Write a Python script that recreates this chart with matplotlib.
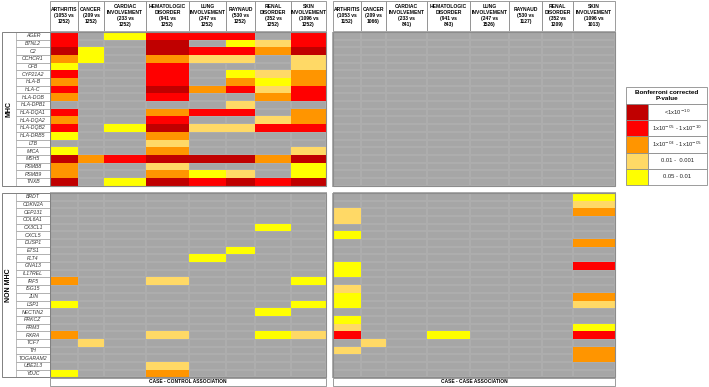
import numpy as np
import matplotlib
matplotlib.use('Agg')
import matplotlib.pyplot as plt
from matplotlib.colors import ListedColormap, BoundaryNorm
from matplotlib.patches import Rectangle

plt.rcParams['font.family'] = ['Liberation Sans', 'DejaVu Sans']

# column headers
cc_headers = ['ARTHRITIS\n(1053 vs\n1252)', 'CANCER\n(209 vs\n1252)', 'CARDIAC\nINVOLVEMENT\n(233 vs\n1252)',
              'HEMATOLOGIC\nDISORDER\n(941 vs\n1252)', 'LUNG\nINVOLVEMENT\n(247 vs\n1252)', 'RAYNAUD\n(530 vs\n1252)',
              'RENAL\nDISORDER\n(352 vs\n1252)', 'SKIN\nINVOLVEMENT\n(1096 vs\n1252)']
cs_headers = ['ARTHRITIS\n(1053 vs\n1152)', 'CANCER\n(209 vs\n1066)', 'CARDIAC\nINVOLVEMENT\n(233 vs\n841)',
              'HEMATOLOGIC\nDISORDER\n(941 vs\n843)', 'LUNG\nINVOLVEMENT\n(247 vs\n1526)', 'RAYNAUD\n(530 vs\n1127)',
              'RENAL\nDISORDER\n(352 vs\n1209)', 'SKIN\nINVOLVEMENT\n(1096 vs\n1013)']

mhc_genes = ['AGER', 'BTNL2', 'C2', 'CCHCR1', 'CFB', 'CYP21A2', 'HLA-B', 'HLA-C', 'HLA-DOB', 'HLA-DPB1',
             'HLA-DQA1', 'HLA-DQA2', 'HLA-DQB2', 'HLA-DRB5', 'LTB', 'MICA', 'MSH5', 'PSMB8', 'PSMB9', 'TNXB']
non_mhc_genes = ['BRDT', 'CDKN2A', 'CEP131', 'COL6A1', 'CX3CL1', 'CXCL5', 'DUSP1', 'ETS1', 'FLT4', 'GNA13',
                 'IL17REL', 'IRF5', 'ISG15', 'JUN', 'LSP1', 'NECTIN2', 'PRKCZ', 'PRM3', 'RXRA', 'TCF7', 'TH',
                 'TOGARAM2', 'UBE2L3', 'YDJC']

# significance class: 0 n.s., 1 0.05-0.01, 2 0.01-0.001, 3 1e-3..1e-5, 4 1e-5..1e-10, 5 <1e-10
cc_mhc = [
    [4, 0, 1, 4, 4, 4, 0, 4],
    [4, 0, 0, 5, 0, 1, 2, 4],
    [5, 1, 0, 5, 4, 4, 3, 5],
    [3, 1, 0, 3, 2, 2, 0, 2],
    [1, 0, 0, 4, 0, 0, 0, 2],
    [4, 0, 0, 4, 0, 1, 2, 3],
    [3, 0, 0, 4, 0, 3, 1, 3],
    [4, 0, 0, 5, 3, 4, 2, 4],
    [3, 0, 0, 4, 0, 0, 3, 4],
    [0, 0, 0, 0, 0, 2, 0, 0],
    [4, 0, 0, 3, 4, 4, 0, 3],
    [3, 0, 0, 4, 0, 0, 2, 3],
    [4, 0, 1, 5, 2, 2, 4, 4],
    [1, 0, 0, 3, 0, 0, 0, 0],
    [0, 0, 0, 2, 0, 0, 0, 0],
    [1, 0, 0, 3, 0, 0, 0, 2],
    [5, 3, 4, 5, 5, 5, 3, 5],
    [3, 0, 0, 2, 0, 0, 0, 1],
    [3, 0, 0, 3, 1, 2, 0, 1],
    [5, 0, 1, 5, 4, 5, 4, 5],
]
cc_non_mhc = [
    [0, 0, 0, 0, 0, 0, 0, 0],
    [0, 0, 0, 0, 0, 0, 0, 0],
    [0, 0, 0, 0, 0, 0, 0, 0],
    [0, 0, 0, 0, 0, 0, 0, 0],
    [0, 0, 0, 0, 0, 0, 1, 0],
    [0, 0, 0, 0, 0, 0, 0, 0],
    [0, 0, 0, 0, 0, 0, 0, 0],
    [0, 0, 0, 0, 0, 1, 0, 0],
    [0, 0, 0, 0, 1, 0, 0, 0],
    [0, 0, 0, 0, 0, 0, 0, 0],
    [0, 0, 0, 0, 0, 0, 0, 0],
    [3, 0, 0, 2, 0, 0, 0, 1],
    [0, 0, 0, 0, 0, 0, 0, 0],
    [0, 0, 0, 0, 0, 0, 0, 0],
    [1, 0, 0, 0, 0, 0, 0, 1],
    [0, 0, 0, 0, 0, 0, 1, 0],
    [0, 0, 0, 0, 0, 0, 0, 0],
    [0, 0, 0, 0, 0, 0, 0, 0],
    [3, 0, 0, 2, 0, 0, 1, 2],
    [0, 2, 0, 0, 0, 0, 0, 0],
    [0, 0, 0, 0, 0, 0, 0, 0],
    [0, 0, 0, 0, 0, 0, 0, 0],
    [0, 0, 0, 2, 0, 0, 0, 0],
    [1, 0, 0, 3, 0, 0, 0, 0],
]
cs_mhc = [[0, 0, 0, 0, 0, 0, 0, 0] for g in mhc_genes]  # nothing significant
cs_non_mhc = [
    [0, 0, 0, 0, 0, 0, 0, 1],
    [0, 0, 0, 0, 0, 0, 0, 2],
    [2, 0, 0, 0, 0, 0, 0, 3],
    [2, 0, 0, 0, 0, 0, 0, 0],
    [0, 0, 0, 0, 0, 0, 0, 0],
    [1, 0, 0, 0, 0, 0, 0, 0],
    [0, 0, 0, 0, 0, 0, 0, 3],
    [0, 0, 0, 0, 0, 0, 0, 0],
    [0, 0, 0, 0, 0, 0, 0, 0],
    [1, 0, 0, 0, 0, 0, 0, 4],
    [1, 0, 0, 0, 0, 0, 0, 0],
    [0, 0, 0, 0, 0, 0, 0, 0],
    [2, 0, 0, 0, 0, 0, 0, 0],
    [1, 0, 0, 0, 0, 0, 0, 3],
    [1, 0, 0, 0, 0, 0, 0, 2],
    [0, 0, 0, 0, 0, 0, 0, 0],
    [1, 0, 0, 0, 0, 0, 0, 0],
    [2, 0, 0, 0, 0, 0, 0, 1],
    [4, 0, 0, 1, 0, 0, 0, 4],
    [0, 2, 0, 0, 0, 0, 0, 0],
    [2, 0, 0, 0, 0, 0, 0, 3],
    [0, 0, 0, 0, 0, 0, 0, 3],
    [0, 0, 0, 0, 0, 0, 0, 0],
    [0, 0, 0, 0, 0, 0, 0, 0],
]

legend_labels = ['<1x10$^{-10}$', '1x10$^{-05}$ - 1x10$^{-10}$', '1x10$^{-03}$ - 1x10$^{-05}$',
                 '0.01 -  0.001', '0.05 - 0.01']

# ---- layout (pixel coordinates) ----
colors = ['#a6a6a6', '#ffff00', '#ffd966', '#ff9500', '#ff0000', '#c00000']
cmap = ListedColormap(colors)
norm = BoundaryNorm(np.arange(-0.5, 6.5), cmap.N)

left_w = [28, 26, 42, 43, 37, 29, 36, 35]
right_w = [28, 25, 41, 43, 39, 33, 31, 42]
left_x0, right_x0 = 50, 333
row_h = 7.68
mhc_y0, non_y0 = 32, 193
head_y0 = 1
border = '#8c8c8c'

fig = plt.figure(figsize=(7.09, 3.87), dpi=100)
ax = fig.add_axes([0, 0, 1, 1])
ax.set_xlim(0, 709)
ax.set_ylim(387, 0)
ax.axis('off')


def draw_panel(x0, widths, headers, blocks, footer):
    xe = x0 + np.concatenate([[0], np.cumsum(widths)])
    # header cells
    for i, h in enumerate(headers):
        ax.add_patch(Rectangle((xe[i], head_y0), xe[i + 1] - xe[i], mhc_y0 - head_y0,
                               facecolor='white', edgecolor=border, lw=0.6))
        ax.text((xe[i] + xe[i + 1]) / 2, 15.5, h, ha='center', va='center',
                fontsize=3.6, fontweight='bold', linespacing=1.2)
    for y0, data in blocks:
        data = np.array(data)
        ye = y0 + row_h * np.arange(data.shape[0] + 1)
        # gray background with faint cell grid, significant cells on top
        ax.pcolormesh(xe, ye, np.zeros_like(data), cmap=cmap, norm=norm,
                      edgecolors='#adadad', linewidth=0.3)
        ax.pcolormesh(xe, ye, np.ma.masked_equal(data, 0), cmap=cmap, norm=norm,
                      edgecolors='none', linewidth=0)
        ax.add_patch(Rectangle((xe[0], ye[0]), xe[-1] - xe[0], ye[-1] - ye[0],
                               facecolor='none', edgecolor=border, lw=0.8))
    # footer
    ax.add_patch(Rectangle((xe[0], 377.5), xe[-1] - xe[0], 8.5, facecolor='white',
                           edgecolor=border, lw=0.6))
    ax.text((xe[0] + xe[-1]) / 2, 381.9, footer, ha='center', va='center',
            fontsize=3.5, fontweight='bold')


draw_panel(left_x0, left_w, cc_headers, [(mhc_y0, cc_mhc), (non_y0, cc_non_mhc)],
           'CASE - CONTROL ASSOCIATION')
draw_panel(right_x0, right_w, cs_headers, [(mhc_y0, cs_mhc), (non_y0, cs_non_mhc)],
           'CASE - CASE ASSOCIATION')

# gene labels and group labels
for y0, genes, group in [(mhc_y0, mhc_genes, 'MHC'), (non_y0, non_mhc_genes, 'NON MHC')]:
    for i, g in enumerate(genes):
        ax.add_patch(Rectangle((16, y0 + i * row_h), left_x0 - 16, row_h,
                               facecolor='white', edgecolor='#a0a0a0', lw=0.5))
        ax.text(33, y0 + (i + 0.5) * row_h, g, ha='center', va='center',
                fontsize=3.7, style='italic', color='#333333')
    h = row_h * len(genes)
    ax.add_patch(Rectangle((2, y0), left_x0 - 2, h, facecolor='none', edgecolor='#808080', lw=0.7))
    ax.text(9, y0 + h / 2, group, rotation=90, ha='center', va='center',
            fontsize=5, fontweight='bold')

# legend
lx0, lx1, ly0 = 626, 707, 87
sw = 22
title_h = 17
item_h = 16.2
ax.add_patch(Rectangle((lx0, ly0), lx1 - lx0, title_h, facecolor='white', edgecolor=border, lw=0.6))
ax.text((lx0 + lx1) / 2, ly0 + title_h / 2, 'Bonferroni corrected\nP-value', ha='center',
        va='center', fontsize=4.6, fontweight='bold', linespacing=1.1)
for k, lab in enumerate(legend_labels):
    y = ly0 + title_h + k * item_h
    ax.add_patch(Rectangle((lx0, y), sw, item_h, facecolor=colors[5 - k], edgecolor=border, lw=0.6))
    ax.add_patch(Rectangle((lx0 + sw, y), lx1 - lx0 - sw, item_h, facecolor='white',
                           edgecolor=border, lw=0.6))
    ax.text((lx0 + sw + lx1) / 2, y + item_h / 2, lab, ha='center', va='center',
            fontsize=4.2, color='#222222')

plt.savefig('out.png', dpi=100)
